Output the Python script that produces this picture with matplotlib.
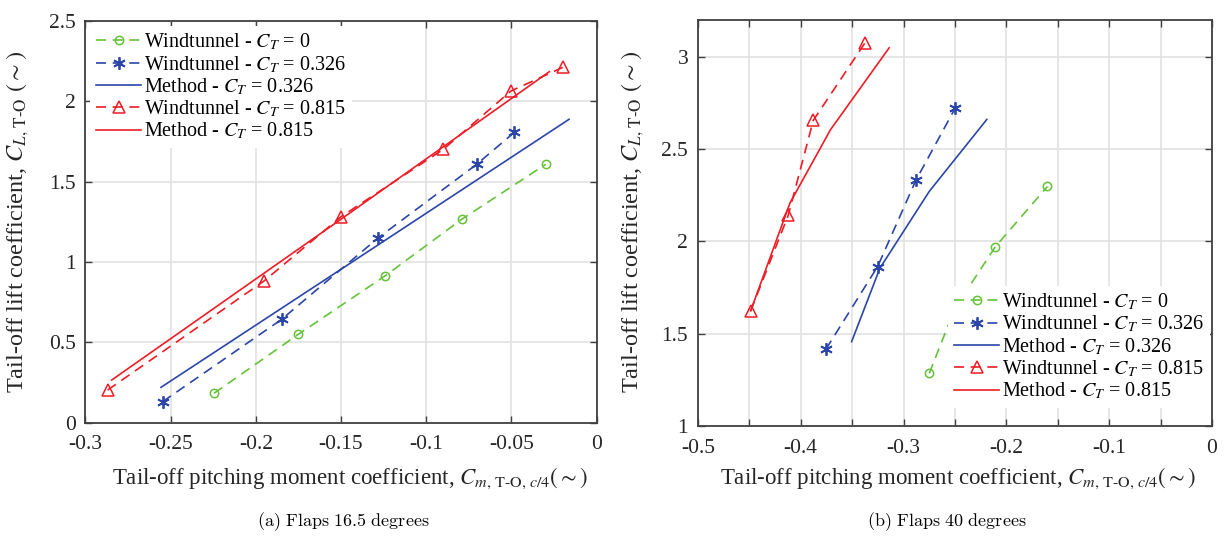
import matplotlib
matplotlib.use('Agg')
import matplotlib.pyplot as plt

plt.rcParams['font.family'] = ['Liberation Serif', 'DejaVu Serif']
plt.rcParams['mathtext.fontset'] = 'stix'
plt.rcParams['font.size'] = 13.5

GREEN = '#66c23a'
BLUE = '#2b46a8'
RED = '#ee1c25'
FRAME = '#404040'

# (a) flaps 16.5 degrees
a_wt0_x = [-0.2245, -0.175, -0.124, -0.0792, -0.0299]
a_wt0_y = [0.183, 0.55, 0.914, 1.265, 1.607]
a_wt326_x = [-0.2546, -0.1848, -0.128, -0.0704, -0.0483]
a_wt326_y = [0.131, 0.643, 1.151, 1.607, 1.806]
a_m326_x = [-0.2556, -0.1447, -0.0162]
a_m326_y = [0.22, 0.991, 1.887]
a_wt815_x = [-0.2869, -0.1952, -0.15, -0.09, -0.0503, -0.0199]
a_wt815_y = [0.203, 0.881, 1.281, 1.700, 2.063, 2.21]
a_m815_x = [-0.2845, -0.1506, -0.0278]
a_m815_y = [0.2655, 1.261, 2.183]

# (b) flaps 40 degrees
b_wt0_x = [-0.275, -0.250, -0.2106, -0.160]
b_wt0_y = [1.285, 1.638, 1.972, 2.298]
b_wt326_x = [-0.3755, -0.3252, -0.288, -0.2497]
b_wt326_y = [1.416, 1.864, 2.331, 2.723]
b_m326_x = [-0.3505, -0.323, -0.275, -0.219]
b_m326_y = [1.457, 1.855, 2.271, 2.661]
b_wt815_x = [-0.4487, -0.4122, -0.3878, -0.3375]
b_wt815_y = [1.624, 2.141, 2.656, 3.076]
b_m815_x = [-0.4487, -0.4105, -0.371, -0.314]
b_m815_y = [1.624, 2.208, 2.606, 3.049]

labels = [r'Windtunnel - $C_T$ = 0', r'Windtunnel - $C_T$ = 0.326', r'Method - $C_T$ = 0.326',
          r'Windtunnel - $C_T$ = 0.815', r'Method - $C_T$ = 0.815']

fig = plt.figure(figsize=(12.29, 5.40), dpi=100)
ax1 = fig.add_axes([0.0694, 0.2172, 0.4161, 0.7444])
ax2 = fig.add_axes([0.5679, 0.2111, 0.4182, 0.7519])

dash = (6, 4)
star = (6, 2, 0)


def draw(ax, d):
    ax.plot(d[0], d[1], color=GREEN, lw=1.2, dashes=dash, marker='o', ms=6, mfc='none', mew=1.1)
    ax.plot(d[2], d[3], color=BLUE, lw=1.2, dashes=dash, marker=star, ms=9, mew=1.3)
    ax.plot(d[4], d[5], color=BLUE, lw=1.2)
    ax.plot(d[6], d[7], color=RED, lw=1.2, dashes=dash, marker='^', ms=8, mfc='none', mew=1.1)
    ax.plot(d[8], d[9], color=RED, lw=1.2)


draw(ax1, [a_wt0_x, a_wt0_y, a_wt326_x, a_wt326_y, a_m326_x, a_m326_y,
           a_wt815_x, a_wt815_y, a_m815_x, a_m815_y])
draw(ax2, [b_wt0_x, b_wt0_y, b_wt326_x, b_wt326_y, b_m326_x, b_m326_y,
           b_wt815_x, b_wt815_y, b_m815_x, b_m815_y])

ax1.set_xlim(-0.3, 0)
ax1.set_ylim(0, 2.5)
ax1.set_xticks([-0.3, -0.25, -0.2, -0.15, -0.1, -0.05, 0])
ax1.set_xticklabels(['-0.3', '-0.25', '-0.2', '-0.15', '-0.1', '-0.05', '0'])
ax1.set_yticks([0, 0.5, 1, 1.5, 2, 2.5])
ax1.set_yticklabels(['0', '0.5', '1', '1.5', '2', '2.5'])

ax2.set_xlim(-0.5, 0)
ax2.set_ylim(1, 3.2)
ax2.set_xticks([-0.5, -0.45, -0.4, -0.35, -0.3, -0.25, -0.2, -0.15, -0.1, -0.05, 0])
ax2.set_xticklabels(['-0.5', '', '-0.4', '', '-0.3', '', '-0.2', '', '-0.1', '', '0'])
ax2.set_yticks([1, 1.5, 2, 2.5, 3])
ax2.set_yticklabels(['1', '1.5', '2', '2.5', '3'])

for ax in (ax1, ax2):
    ax.grid(True, color='#e2e2e2', lw=1.2)
    ax.set_axisbelow(True)
    ax.tick_params(direction='in', top=True, right=True, length=5, width=1.0,
                   color=FRAME, labelcolor='#262626', labelsize=15.5)
    ax.tick_params(axis='x', pad=9)
    ax.tick_params(axis='y', pad=7)
    for s in ax.spines.values():
        s.set_color(FRAME)
        s.set_linewidth(1.3)

leg1 = ax1.legend(labels, loc='upper left', frameon=True, fontsize=14.5, handlelength=2.2,
                  handletextpad=0.15, labelspacing=0.08, borderaxespad=0.25, borderpad=0.3)
leg2 = ax2.legend(labels, loc='lower right', frameon=True, fontsize=14.5, handlelength=2.2,
                  handletextpad=0.15, labelspacing=0.08, borderaxespad=0.1, borderpad=0.3,
                  bbox_to_anchor=(1.0, 0.04))
for leg in (leg1, leg2):
    leg.get_frame().set_edgecolor('none')
    leg.get_frame().set_facecolor('white')
    leg.get_frame().set_alpha(1)

ylab = r'Tail-off lift coefficient, $C_{L,\,\mathrm{T\text{-}O}}$ $(\sim)$'
xlab = r'Tail-off pitching moment coefficient, $C_{m,\,\mathrm{T\text{-}O},\,c/4}$$(\sim)$'
fig.text(18 / 1229, 1 - 222 / 540, ylab, rotation=90, ha='center', va='center', fontsize=17.5, color='#262626')
fig.text(633 / 1229, 1 - 222 / 540, ylab, rotation=90, ha='center', va='center', fontsize=17.5, color='#262626')
fig.text(350 / 1229, 1 - 478 / 540, xlab, ha='center', va='center', fontsize=16.5, color='#262626')
fig.text(958 / 1229, 1 - 478 / 540, xlab, ha='center', va='center', fontsize=16.5, color='#262626')

fig.text(343 / 1229, 1 - 522 / 540, r'$\mathrm{(a)\ Flaps\ 16.5\ degrees}$', ha='center', va='center',
         fontsize=13, math_fontfamily='cm')
fig.text(947 / 1229, 1 - 522 / 540, r'$\mathrm{(b)\ Flaps\ 40\ degrees}$', ha='center', va='center',
         fontsize=13, math_fontfamily='cm')

fig.savefig('out.png', dpi=100)
